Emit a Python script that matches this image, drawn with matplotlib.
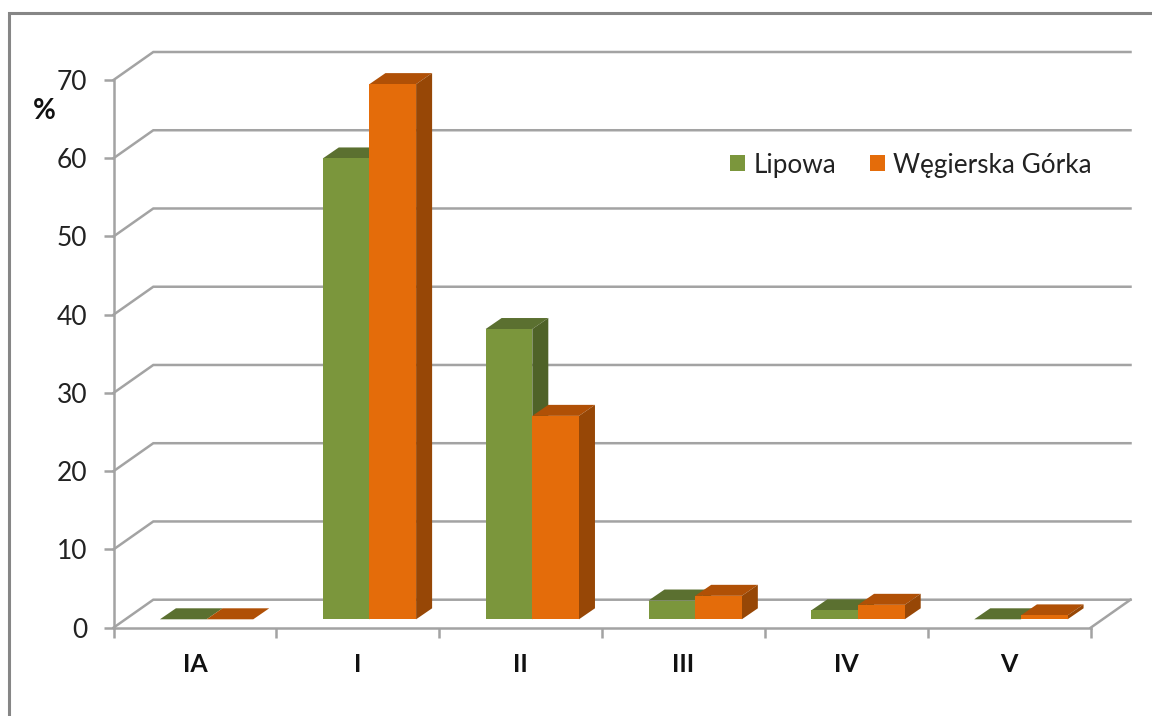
import matplotlib
matplotlib.use('Agg')
import matplotlib.pyplot as plt
from matplotlib.lines import Line2D
from matplotlib.patches import Patch, Polygon

categories = ['IA', 'I', 'II', 'III', 'IV', 'V']
lipowa = [0, 58.9, 37.1, 2.4, 1.15, 0]
wegierska = [0, 68.4, 26.0, 3.0, 1.85, 0.5]
y_ticks = [0, 10, 20, 30, 40, 50, 60, 70]
series_names = ['Lipowa', 'Węgierska Górka']

W, H = 1152, 716
AX_L, AX_R, AX_T, AX_B = 113.5, 1090.7, 80.0, 627.7
PX_X = (AX_R - AX_L) / len(categories)
PX_Y = (AX_B - AX_T) / 70

# glebokosc sciany i slupkow, w jednostkach danych
WALL_DX, WALL_DY = 39.8 / PX_X, 28 / PX_Y
BAR_DX, BAR_DY = 16 / PX_X, 11 / PX_Y
BAR_BASE = 8.4 / PX_Y
BAR_LEFT = 0.285
BAR_W = 0.2865

GREY = '#A3A3A3'
GREEN = ('#7B963C', '#5B7030', '#4F6228')
ORANGE = ('#E46C0A', '#B05006', '#974706')

plt.rcParams['font.family'] = ['Lato', 'DejaVu Sans']

fig = plt.figure(figsize=(W / 100, H / 100), dpi=100)
ax = fig.add_axes([AX_L / W, 1 - AX_B / H, (AX_R - AX_L) / W, (AX_B - AX_T) / H])
ax.set_xlim(0, len(categories))
ax.set_ylim(0, 70)
ax.patch.set_visible(False)


def draw_bar(x, value, colors):
    y0, y1 = BAR_BASE, BAR_BASE + value
    front, top, side = colors
    ax.add_patch(Polygon([(x, y1), (x + BAR_W, y1), (x + BAR_W + BAR_DX, y1 + BAR_DY), (x + BAR_DX, y1 + BAR_DY)],
                         fc=top, ec='none', clip_on=False, zorder=3))
    ax.add_patch(Polygon([(x + BAR_W, y0), (x + BAR_W + BAR_DX, y0 + BAR_DY), (x + BAR_W + BAR_DX, y1 + BAR_DY), (x + BAR_W, y1)],
                         fc=side, ec='none', clip_on=False, zorder=3))
    ax.add_patch(Polygon([(x, y0), (x + BAR_W, y0), (x + BAR_W, y1), (x, y1)],
                         fc=front, ec='none', clip_on=False, zorder=3))


# siatka na tylnej scianie i skosy
for t in y_ticks:
    ax.plot([0, WALL_DX, len(categories) + WALL_DX], [t, t + WALL_DY, t + WALL_DY],
            color=GREY, lw=1.8, clip_on=False, zorder=1, solid_joinstyle='miter')
ax.plot([len(categories), len(categories) + WALL_DX], [0, WALL_DY], color=GREY, lw=1.8, clip_on=False, zorder=1)

for i in range(len(categories)):
    draw_bar(i + BAR_LEFT, lipowa[i], GREEN)
    draw_bar(i + BAR_LEFT + BAR_W, wegierska[i], ORANGE)

# osie
for s in ['top', 'right']:
    ax.spines[s].set_visible(False)
for s in ['left', 'bottom']:
    ax.spines[s].set_color(GREY)
    ax.spines[s].set_linewidth(1.8)
    ax.spines[s].set_zorder(2)

ax.set_yticks(y_ticks)
ax.tick_params(axis='y', length=7, width=1.8, color=GREY, pad=12, labelsize=19, labelcolor='#222222')
ax.set_xticks(range(len(categories) + 1))
ax.set_xticklabels([])
ax.tick_params(axis='x', which='major', length=7, width=1.8, color=GREY)
ax.set_xticks([i + 0.5 for i in range(len(categories))], minor=True)
ax.set_xticklabels(categories, minor=True, fontsize=18, fontweight='bold', color='#111111')
ax.tick_params(axis='x', which='minor', length=0, pad=18)

ax.text(-0.425, 66.1, '%', fontsize=20, fontweight='bold', color='#111111', ha='center', va='center')

handles = [Patch(fc=GREEN[0], ec='none'), Patch(fc=ORANGE[0], ec='none')]
ax.legend(handles, series_names, ncol=2, frameon=False, fontsize=18.8, labelcolor='#222222',
          handlelength=0.59, handleheight=0.59, handletextpad=0.3, columnspacing=1.3,
          borderpad=0, borderaxespad=0, loc='center left',
          bbox_to_anchor=((730 - AX_L) / (AX_R - AX_L), (AX_B - 165) / (AX_B - AX_T)))

# ramka wykresu
fig.add_artist(Line2D([1, 8.5 / W, 8.5 / W], [1 - 12.5 / H, 1 - 12.5 / H, 0], color='#868686', lw=2.2,
                      solid_joinstyle='miter'))

fig.savefig('out.png', dpi=100, facecolor='white')
